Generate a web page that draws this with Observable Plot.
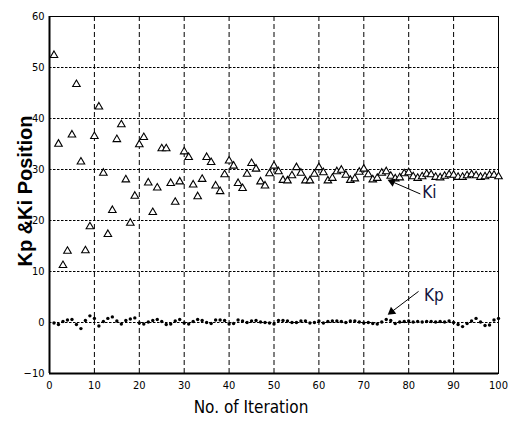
<!DOCTYPE html>
<html><head><meta charset="utf-8">
<script src="https://cdn.jsdelivr.net/npm/d3@7"></script>
<script src="https://cdn.jsdelivr.net/npm/@observablehq/plot@0.6"></script>
<style>body{margin:0;background:#fff}</style>
</head><body><div id="chart"></div>
<script>
const iterations = d3.range(1, 101);
const kiValues = [
  52.4, 35.0, 11.2, 14.0, 36.8, 46.7, 31.5, 14.1, 18.8, 36.5,
  42.3, 29.3, 17.3, 22.0, 35.9, 38.8, 28.0, 19.5, 24.8, 34.9,
  36.3, 27.4, 21.6, 26.4, 34.1, 34.1, 27.3, 23.6, 27.6, 33.5,
  32.4, 27.0, 24.7, 28.1, 32.4, 31.4, 26.8, 25.7, 29.0, 31.7,
  30.7, 27.3, 26.3, 29.1, 31.2, 30.1, 27.6, 26.8, 29.2, 30.7,
  29.6, 27.9, 27.8, 28.8, 30.4, 29.3, 27.8, 27.8, 29.1, 30.4,
  29.4, 27.8, 28.3, 29.6, 29.9, 28.9, 27.9, 28.2, 29.5, 30.1,
  29.0, 28.0, 28.3, 29.3, 29.6, 28.7, 28.2, 28.4, 29.2, 29.4,
  28.6, 28.3, 28.6, 29.1, 29.0, 28.5, 28.4, 28.7, 29.0, 28.9,
  28.5, 28.5, 28.8, 29.0, 28.8, 28.5, 28.6, 28.9, 28.9, 28.6
];
const kpValues = [
  -0.1, -0.4, 0.2, 0.5, 0.6, -0.4, -1.2, 0.4, 1.3, 0.8,
  -0.7, 0.2, 0.8, 1.1, 0.3, -0.3, 0.4, 0.7, 0.9, -0.1,
  -0.3, 0.1, 0.4, 0.6, 0.2, -0.4, -0.3, 0.3, 0.6, -0.1,
  -0.3, 0.2, 0.6, 0.4, 0.0, -0.2, 0.5, 0.5, 0.4, -0.3,
  -0.2, 0.5, 0.3, 0.0, 0.3, 0.4, 0.1, 0.0, -0.1, -0.3,
  0.4, 0.4, 0.3, 0.0, 0.0, 0.3, 0.3, -0.1, 0.0, 0.3,
  -0.1, 0.2, 0.3, 0.3, 0.2, 0.0, 0.3, 0.3, 0.1, -0.1,
  0.0, -0.2, -0.3, 0.1, 0.6, 0.4, -0.2, 0.1, 0.2, 0.3,
  0.1, 0.2, 0.1, 0.2, 0.2, 0.1, 0.2, 0.1, 0.3, 0.0,
  -0.4, -0.8, -0.2, 0.3, 0.8, 0.1, -0.6, -0.5, 0.5, 0.8
];
const xTicks = [0, 10, 20, 30, 40, 50, 60, 70, 80, 90, 100];
const yTicks = [-10, 0, 10, 20, 30, 40, 50, 60];
const xGridLines = [10, 20, 30, 40, 50, 60, 70, 80, 90];
const yGridLines = [0, 10, 20, 30, 40, 50];
const labelNames = ["Ki", "Kp"];
const labelTextX = [83.0, 83.4];
const labelTextY = [25.5, 5.3];
const arrowFromX = [82.6, 82.2];
const arrowFromY = [25.2, 6.1];
const arrowHeadX = [76.3, 76.2];
const arrowHeadY = [27.6, 2.1];
const arrowHeadAngle = [293, 232];
const xTitle = "No. of Iteration";
const yTitle = "Kp &Ki Position";

const ki = iterations.map((it, i) => ({it, v: kiValues[i]}));
const kp = iterations.map((it, i) => ({it, v: kpValues[i]}));
const notes = labelNames.map((label, i) => ({
  label, tx: labelTextX[i], ty: labelTextY[i],
  x1: arrowFromX[i], y1: arrowFromY[i], x2: arrowHeadX[i], y2: arrowHeadY[i], a: arrowHeadAngle[i]
}));

const narrow = "'Liberation Sans Narrow', 'Arial Narrow', 'DejaVu Sans Condensed', sans-serif";

const plot = Plot.plot({
  width: 511, height: 422,
  marginLeft: 49, marginRight: 13, marginTop: 16, marginBottom: 49,
  x: {domain: [0, 100]},
  y: {domain: [-10, 60]},
  style: {fontFamily: narrow, fontSize: "11px", background: "white", color: "black"},
  marks: [
    Plot.gridX(xGridLines, {stroke: "black", strokeOpacity: 1, strokeWidth: 1, strokeDasharray: "5,3"}),
    Plot.gridY(yGridLines, {stroke: "black", strokeOpacity: 1, strokeWidth: 1, strokeDasharray: "2.5,1.5"}),
    Plot.frame({stroke: "black", strokeWidth: 1}),
    Plot.ruleX([0], {stroke: "black", strokeWidth: 2}),
    Plot.ruleY([-10], {stroke: "black", strokeWidth: 2}),
    Plot.axisX(xTicks, {tickSize: 0, tickPadding: 8, label: null, fontSize: 11, fontFamily: narrow}),
    Plot.axisY(yTicks, {tickSize: 0, tickPadding: 5, label: null, fontSize: 11, fontFamily: narrow}),
    Plot.dot(ki, {x: "it", y: "v", symbol: "triangle", r: 2.8, stroke: "black", strokeWidth: 1.1, fill: "white"}),
    Plot.dot(kp, {x: "it", y: "v", r: 1.7, fill: "black", stroke: "none"}),
    Plot.link(notes, {x1: "x1", y1: "y1", x2: "x2", y2: "y2", stroke: "black", strokeWidth: 1}),
    Plot.dot(notes, {x: "x2", y: "y2", symbol: "triangle", r: 3.2, rotate: "a", fill: "black", stroke: "none"}),
    Plot.text(notes, {x: "tx", y: "ty", text: "label", textAnchor: "start", fontSize: 17, fill: "#14143c", fontFamily: narrow}),
    Plot.text([xTitle], {frameAnchor: "bottom", lineAnchor: "middle", dx: -23, dy: 34, fontSize: 17, fontFamily: narrow}),
    Plot.text([yTitle], {frameAnchor: "left", textAnchor: "middle", lineAnchor: "middle", dx: -24, dy: -4, rotate: -90, fontSize: 20, fontWeight: "bold", fontFamily: "'Liberation Sans', Arial, sans-serif"})
  ]
});
document.getElementById("chart").appendChild(plot);
</script>
</body></html>
